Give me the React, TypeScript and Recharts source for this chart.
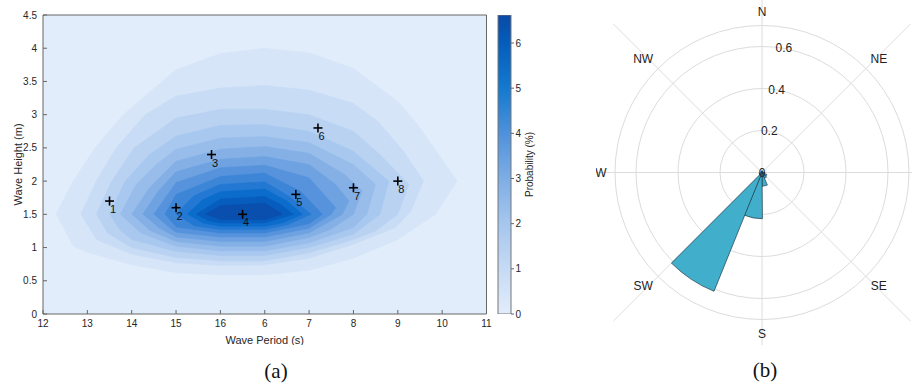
import React from 'react';
import {
  ScatterChart,
  Scatter,
  XAxis,
  YAxis,
  CartesianGrid,
  BarChart,
  Bar,
  RadarChart,
  Radar,
  RadialBarChart,
  RadialBar,
  PolarGrid,
  PolarAngleAxis,
  PolarRadiusAxis,
} from 'recharts';

// ---- (a) wave period / height contour ----
// x axis is positional: index 0..10 shown with these labels
const periodTicks = [0, 1, 2, 3, 4, 5, 6, 7, 8, 9, 10];
const periodLabels = ['12', '13', '14', '15', '16', '6', '7', '8', '9', '10', '11'];
const heightTicks = [0, 0.5, 1, 1.5, 2, 2.5, 3, 3.5, 4, 4.5];

// filled contour regions (probability >= level)
const level1 = [[0.29, 1.5], [0.68, 2.0], [1.17, 2.5], [1.81, 3.0], [3.0, 3.68], [4.0, 3.92], [5.0, 4.0], [6.0, 3.93], [7.0, 3.7], [8.0, 3.2], [8.45, 2.85], [9.34, 2.0], [8.85, 1.5], [8.0, 1.12], [7.0, 0.84], [6.0, 0.66], [5.0, 0.59], [4.0, 0.59], [3.0, 0.62], [2.0, 0.74], [1.0, 0.93], [0.68, 1.02]];
const level2 = [[0.85, 1.5], [1.2, 2.0], [1.65, 2.5], [2.3, 3.0], [3.0, 3.28], [4.0, 3.4], [5.0, 3.44], [6.0, 3.37], [7.0, 3.17], [7.55, 2.9], [8.13, 2.45], [8.58, 2.0], [8.3, 1.55], [7.95, 1.3], [7.0, 1.05], [6.0, 0.84], [5.0, 0.74], [4.0, 0.73], [3.0, 0.77], [2.0, 0.9], [1.2, 1.12]];
const level3 = [[1.2, 1.5], [1.55, 2.0], [2.05, 2.5], [3.0, 2.95], [4.0, 3.08], [5.0, 3.08], [6.0, 3.0], [7.0, 2.75], [7.6, 2.4], [8.25, 1.95], [8.0, 1.5], [7.5, 1.25], [7.0, 1.12], [6.0, 0.92], [5.0, 0.8], [4.0, 0.8], [3.0, 0.85], [2.0, 1.0], [1.45, 1.22]];
const level4 = [[1.5, 1.5], [1.85, 2.0], [2.4, 2.4], [3.0, 2.68], [4.0, 2.84], [5.0, 2.85], [6.0, 2.75], [7.0, 2.45], [7.8, 2.0], [7.6, 1.5], [7.0, 1.2], [6.0, 1.0], [5.0, 0.88], [4.0, 0.88], [3.0, 0.94], [2.0, 1.12], [1.72, 1.27]];
const level5 = [[1.74, 1.5], [2.1, 1.95], [2.55, 2.25], [3.0, 2.48], [4.0, 2.65], [5.0, 2.67], [6.0, 2.58], [7.0, 2.25], [7.5, 1.95], [7.3, 1.5], [7.0, 1.3], [6.0, 1.07], [5.0, 0.95], [4.0, 0.95], [3.0, 1.02], [2.2, 1.22]];
const level6 = [[2.0, 1.5], [2.4, 1.9], [3.0, 2.3], [4.0, 2.48], [5.0, 2.52], [6.0, 2.42], [6.8, 2.1], [7.2, 1.85], [7.0, 1.5], [6.5, 1.28], [6.0, 1.15], [5.0, 1.02], [4.0, 1.02], [3.0, 1.09], [2.4, 1.26]];
const level7 = [[2.25, 1.5], [2.6, 1.85], [3.0, 2.14], [4.0, 2.33], [5.0, 2.37], [6.0, 2.25], [6.6, 1.95], [6.9, 1.7], [6.75, 1.5], [6.0, 1.22], [5.0, 1.09], [4.0, 1.09], [3.0, 1.16], [2.6, 1.3]];
const level8 = [[2.5, 1.5], [3.0, 1.98], [4.0, 2.2], [5.0, 2.24], [6.0, 2.05], [6.6, 1.6], [6.5, 1.5], [6.0, 1.29], [5.0, 1.16], [4.0, 1.16], [3.0, 1.23], [2.8, 1.33]];
const level9 = [[2.75, 1.5], [3.0, 1.8], [4.0, 2.07], [5.0, 2.12], [5.8, 1.85], [6.3, 1.5], [6.0, 1.36], [5.0, 1.22], [4.0, 1.22], [3.0, 1.31]];
const level10 = [[3.0, 1.5], [3.4, 1.78], [4.0, 1.95], [5.0, 1.99], [5.6, 1.75], [6.05, 1.5], [5.5, 1.34], [5.0, 1.27], [4.0, 1.27], [3.4, 1.33]];
const level11 = [[3.25, 1.5], [3.6, 1.72], [4.0, 1.84], [5.0, 1.88], [5.5, 1.7], [5.85, 1.5], [5.4, 1.37], [5.0, 1.32], [4.0, 1.32], [3.6, 1.37]];
const level12 = [[3.45, 1.5], [4.0, 1.73], [5.0, 1.77], [5.35, 1.65], [5.65, 1.5], [5.0, 1.37], [4.0, 1.37], [3.7, 1.41]];
const level13 = [[3.65, 1.5], [4.0, 1.63], [5.0, 1.67], [5.4, 1.5], [5.0, 1.42], [4.0, 1.42]];

const contours = [level1, level2, level3, level4, level5, level6, level7, level8, level9, level10, level11, level12, level13];
const contourColors = ['#D6E5F8', '#C8DCF5', '#B9D2F2', '#A9C8EF', '#98BDEB', '#84B0E6', '#6EA2E1', '#5693DC', '#3D85D7', '#2278D2', '#0C6CCB', '#075DBD', '#0A4FAE'];
const backgroundColor = '#E2EDFB';

const siteIds = [1, 2, 3, 4, 5, 6, 7, 8];
const sitePeriod = [1.5, 3.0, 3.8, 4.5, 5.7, 6.2, 7.0, 8.0];
const siteHeight = [1.7, 1.6, 2.4, 1.5, 1.8, 2.8, 1.9, 2.0];

// colour bar
const probTicks = [0, 1, 2, 3, 4, 5, 6];
const probMax = 6.62;
const probStops = [0, 1, 2, 3, 4, 5, 6, 6.62];
const probStopColors = ['#E2EDFB', '#C6DAF4', '#A6C6EE', '#7EADE5', '#4F91DB', '#1479CF', '#055DBB', '#0A4AA6'];

// ---- (b) direction rose ----
// bins of 22.5 deg, named by their starting bearing (clockwise from N)
const dirBins = ['0', '22.5', '45', '67.5', '90', '112.5', '135', '157.5', '180', '202.5', '225', '247.5', '270', '292.5', '315', '337.5'];
const dirFreq = [0.008, 0.005, 0.004, 0.006, 0.012, 0.025, 0.03, 0.065, 0.22, 0.61, 0.015, 0.006, 0.005, 0.004, 0.006, 0.008];
const compass = ['N', 'NE', 'E', 'SE', 'S', 'SW', 'W', 'NW'];
const roseTicks = [0, 0.2, 0.4, 0.6];
const roseRings = [0.2, 0.4, 0.6, 0.7];
// radius scale runs 0..1; the outer ring of the rose is at 0.7
const roseDomain = [0, 1];
const ROSE_R = 210; // pixel radius of value 1 (so 0.7 -> 147 px)

const FONT = '"Liberation Sans", Arial, sans-serif';
const AXIS = '#666';
const TEXT = '#262626';

const Empty = () => <g />;

const SiteMarker = (props: any) => {
  const { cx, cy, payload } = props;
  return (
    <g>
      <line x1={cx - 4.5} x2={cx + 4.5} y1={cy} y2={cy} stroke="#000" strokeWidth={1.6} />
      <line x1={cx} x2={cx} y1={cy - 4.5} y2={cy + 4.5} stroke="#000" strokeWidth={1.6} />
      <text x={cx + 3.5} y={cy + 8} fontSize={11} fill="#111" textAnchor="middle" dominantBaseline="central" fontFamily={FONT}>
        {payload.id}
      </text>
    </g>
  );
};

const CompassTick = (props: any) => {
  const { x, y, payload } = props;
  const v = payload.value;
  // the E label falls outside the figure in the original, so it is not drawn
  if (v === 'E') return <g />;
  const dx = v === 'NE' || v === 'SE' ? 3 : v === 'NW' || v === 'SW' ? -5 : 0;
  return (
    <text x={x + dx} y={y} fontSize={12} fill="#222" textAnchor="middle" dominantBaseline="central" fontFamily={FONT}>
      {v}
    </text>
  );
};

const RoseTick = (props: any) => {
  const { x, y, payload } = props;
  return (
    <text x={x} y={y} fontSize={12} fill="#222" textAnchor="middle" dominantBaseline="central" fontFamily={FONT}>
      {payload.value}
    </text>
  );
};

export default function App() {
  const levelData = contours.map(poly => poly.map(([x, y]) => ({ x, y })));
  const sites = siteIds.map((id, i) => ({ id, x: sitePeriod[i], y: siteHeight[i] }));
  const cbData = [{ name: 'p', v: probMax }];
  const roseData = dirBins.map((bin, i) => ({ bin, freq: dirFreq[i] }));
  const compassData = compass.map(dir => ({ dir, zero: 0 }));

  return (
    <div style={{ position: 'absolute', left: 0, top: 0, width: 912, height: 389, background: '#fff', fontFamily: FONT }}>
      {/* (a) contour plot */}
      <div style={{ position: 'absolute', left: 0, top: 0 }}>
        <ScatterChart width={500} height={345} margin={{ top: 14, right: 10, bottom: 0, left: 0 }}>
          <CartesianGrid horizontal={false} vertical={false} fill={backgroundColor} />
          <XAxis
            type="number"
            dataKey="x"
            domain={[0, 10]}
            ticks={periodTicks}
            interval={0}
            tickFormatter={(v: number) => periodLabels[v]}
            height={31}
            tickSize={-4}
            tickMargin={10}
            stroke={AXIS}
            tick={{ fontSize: 10, fill: TEXT, fontFamily: FONT }}
            label={{ value: 'Wave Period (s)', position: 'insideBottom', offset: 1, fontSize: 11, fill: TEXT, fontFamily: FONT }}
          />
          <XAxis xAxisId="top" orientation="top" type="number" domain={[0, 10]} ticks={periodTicks} height={1} tick={false} tickSize={-4} stroke={AXIS} />
          <YAxis
            type="number"
            dataKey="y"
            domain={[0, 4.5]}
            ticks={heightTicks}
            interval={0}
            width={43}
            tickSize={-4}
            tickMargin={10}
            stroke={AXIS}
            tick={{ fontSize: 10, fill: TEXT, fontFamily: FONT }}
            label={{
              content: (p: any) => {
                const vb = p.viewBox;
                const lx = vb.x + 18;
                const ly = vb.y + vb.height / 2;
                return (
                  <text x={lx} y={ly} transform={`rotate(-90 ${lx} ${ly})`} textAnchor="middle" dominantBaseline="central" fontSize={11} fill={TEXT} fontFamily={FONT}>
                    Wave Height (m)
                  </text>
                );
              },
            }}
          />
          <YAxis yAxisId="right" orientation="right" type="number" domain={[0, 4.5]} ticks={heightTicks} width={3.5} tick={false} tickSize={-4} stroke={AXIS} />
          {levelData.map((pts, i) => (
            <Scatter
              key={i}
              data={pts}
              shape={Empty}
              line={{ fill: contourColors[i], stroke: contourColors[i], strokeWidth: 0.5 }}
              lineJointType="linear"
              isAnimationActive={false}
            />
          ))}
          <Scatter data={sites} shape={SiteMarker} isAnimationActive={false} />
        </ScatterChart>
      </div>

      {/* colour bar */}
      <div style={{ position: 'absolute', left: 480, top: 0 }}>
        <BarChart width={62} height={345} data={cbData} margin={{ top: 15, right: 0, bottom: 31, left: 18 }} barCategoryGap={0}>
          <defs>
            <linearGradient id="cbGrad" x1="0" y1="1" x2="0" y2="0">
              {probStops.map((s, i) => (
                <stop key={i} offset={s / probMax} stopColor={probStopColors[i]} />
              ))}
            </linearGradient>
          </defs>
          <XAxis dataKey="name" hide />
          <YAxis
            orientation="right"
            type="number"
            domain={[0, probMax]}
            allowDataOverflow
            ticks={probTicks}
            interval={0}
            width={31}
            tickSize={3}
            tickMargin={1.5}
            axisLine={false}
            stroke={AXIS}
            tick={{ fontSize: 10, fill: TEXT, fontFamily: FONT }}
            label={{
              content: (p: any) => {
                const vb = p.viewBox;
                const lx = vb.x + 18;
                const ly = vb.y + vb.height / 2;
                return (
                  <text x={lx} y={ly} transform={`rotate(-90 ${lx} ${ly})`} textAnchor="middle" dominantBaseline="central" fontSize={10} fill={TEXT} fontFamily={FONT}>
                    Probability (%)
                  </text>
                );
              },
            }}
          />
          <Bar dataKey="v" fill="url(#cbGrad)" stroke="#777" strokeWidth={1} isAnimationActive={false} />
        </BarChart>
      </div>

      {/* (b) rose: grid + compass labels */}
      <div style={{ position: 'absolute', left: 596, top: 0 }}>
        <RadarChart width={332} height={345} data={compassData} startAngle={90} endAngle={-270} outerRadius={ROSE_R} margin={{ top: 0, right: 0, bottom: 0, left: 0 }}>
          <PolarGrid gridType="circle" stroke="#DCDCDC" />
          <PolarAngleAxis dataKey="dir" tick={CompassTick} tickLine={false} axisLine={false} tickSize={-49} />
          <PolarRadiusAxis type="number" domain={roseDomain} ticks={roseRings} tick={false} axisLine={false} tickLine={false} />
          <Radar dataKey="zero" fill="none" stroke="none" dot={false} isAnimationActive={false} />
        </RadarChart>
      </div>

      {/* (b) rose: sectors (bands run clockwise, each starting at its bin's bearing) */}
      <div style={{ position: 'absolute', left: 596, top: 0 }}>
        <RadialBarChart
          width={332}
          height={345}
          data={roseData}
          layout="centric"
          startAngle={67.5}
          endAngle={-292.5}
          innerRadius={0}
          outerRadius={ROSE_R}
          barCategoryGap={0}
          margin={{ top: 0, right: 0, bottom: 0, left: 0 }}
        >
          <PolarAngleAxis type="category" dataKey="bin" tick={false} tickLine={false} axisLine={false} />
          <RadialBar dataKey="freq" fill="#41AFCB" stroke="#1D3B47" strokeWidth={0.7} isAnimationActive={false} />
          <PolarRadiusAxis type="number" angle={80} domain={roseDomain} ticks={roseTicks} tick={RoseTick} axisLine={false} tickLine={false} />
        </RadialBarChart>
      </div>

      <div style={{ position: 'absolute', left: 246, top: 359, width: 60, textAlign: 'center', fontFamily: '"Liberation Serif", "Times New Roman", serif', fontSize: 21, color: '#111' }}>(a)</div>
      <div style={{ position: 'absolute', left: 735, top: 358, width: 60, textAlign: 'center', fontFamily: '"Liberation Serif", "Times New Roman", serif', fontSize: 21, color: '#111' }}>(b)</div>
    </div>
  );
}
